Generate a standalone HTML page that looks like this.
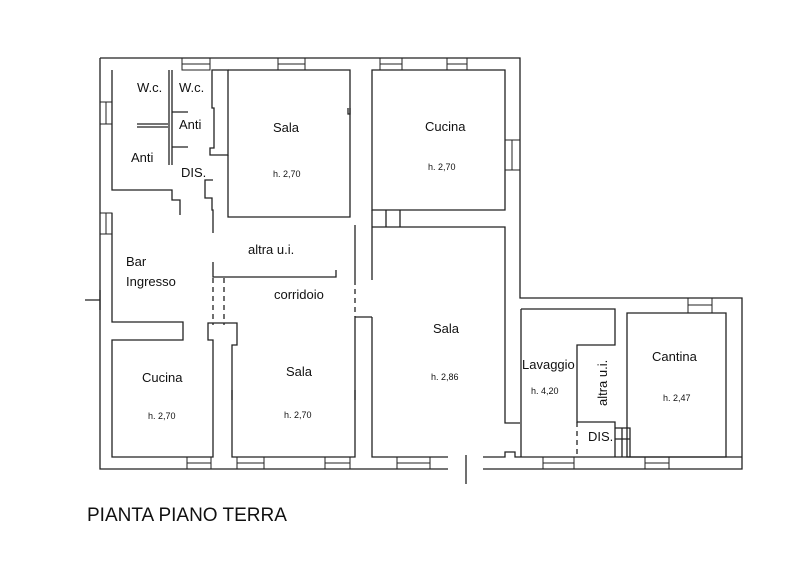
<!DOCTYPE html>
<html><head><meta charset="utf-8"><style>
html,body{margin:0;padding:0;background:#fff;width:800px;height:573px;overflow:hidden}
svg{display:block}
text{font-family:"Liberation Sans",Arial,sans-serif;fill:#111}
</style></head><body>
<svg width="800" height="573" viewBox="0 0 800 573" xmlns="http://www.w3.org/2000/svg">
<g fill="none" stroke="#222" stroke-width="1.3">
<path d="M100 58 H520 V298 H742 V469 H483 M448 469 H100 V58"/>
<path d="M112 70 V190 H172 V200 H180 V215"/>
<path d="M112 213 V310"/>
<path d="M169 70 V165 M172 70 V165"/>
<path d="M137 124 H168 M137 127 H168"/>
<path d="M172 112 H188 M172 147 H188"/>
<path d="M212 70 V108 H214 V148 H210 V155 H228 V70 Z"/>
<path d="M228 155 V217 H350 V70 H228"/>
<path d="M350 108 V114 H348 V108"/>
<path d="M213 180 H205 V198 H212 V210 H213 V233"/>
<path d="M213 262 V277 H336 V270"/>
<path d="M213 278 V325 M224 278 V325" stroke-dasharray="5 4"/>
<path d="M100 300 H85 M100 290 V310"/>
<path d="M112 310 V322 H183 V340 H112 V457 H213 V340 H208 V323 H225"/>
<path d="M225 323 H237 V345 H232 V457 H355 V317 H372"/>
<path d="M232 390 V400 M355 390 V400"/>
<path d="M355 225 V280"/>
<path d="M355 280 V317" stroke-dasharray="5 4"/>
<path d="M372 70 H505 V210 H372 Z"/>
<path d="M372 210 V227 M386 210 V227 M400 210 V227"/>
<path d="M372 227 H505 V423 H520 M372 227 V280 M372 317 V457 H448 M483 457 H505 V452 H515 V457 H520"/>
<path d="M521 309 V457 M521 309 H615 V345 H577 V422 H615 V457"/>
<path d="M577 422 V457" stroke-dasharray="5 4"/>
<path d="M615 428 H630 V457 M622 428 V457 M615 439 H630"/>
<path d="M627 313 H726 V457 H627 Z"/>
<path d="M520 457 H742"/>
<path d="M466 455 V484"/>
<g stroke-width="1">
<rect x="182" y="58" width="28" height="12"/><rect x="278" y="58" width="27" height="12"/>
<rect x="380" y="58" width="22" height="12"/><rect x="447" y="58" width="20" height="12"/>
<rect x="100" y="102" width="12" height="22"/><rect x="100" y="213" width="12" height="21"/>
<rect x="505" y="140" width="15" height="30"/>
<rect x="688" y="298" width="24" height="15"/>
<rect x="187" y="457" width="24" height="12"/><rect x="237" y="457" width="27" height="12"/>
<rect x="325" y="457" width="25" height="12"/><rect x="397" y="457" width="33" height="12"/>
<rect x="543" y="457" width="31" height="12"/><rect x="645" y="457" width="24" height="12"/>
<path d="M182 64 H210 M278 64 H305 M380 64 H402 M447 64 H467 M106 102 V124 M106 213 V234 M512 140 V170 M688 305 H712 M187 463 H211 M237 463 H264 M325 463 H350 M397 463 H430 M543 463 H574 M645 463 H669"/>
</g>
</g>
<g font-size="13">
<text x="137" y="92">W.c.</text><text x="179" y="92">W.c.</text>
<text x="179" y="129">Anti</text><text x="131" y="162">Anti</text>
<text x="181" y="177">DIS.</text>
<text x="273" y="132">Sala</text>
<text x="425" y="131">Cucina</text>
<text x="248" y="254">altra u.i.</text>
<text x="126" y="266">Bar</text><text x="126" y="286">Ingresso</text>
<text x="274" y="299">corridoio</text>
<text x="142" y="382">Cucina</text>
<text x="286" y="376">Sala</text>
<text x="433" y="333">Sala</text>
<text x="522" y="369">Lavaggio</text>
<text x="652" y="361">Cantina</text>
<text x="588" y="441">DIS.</text>
<text transform="translate(607,406) rotate(-90)">altra u.i.</text>
</g>
<g font-size="9" fill="#333">
<text x="273" y="177">h. 2,70</text><text x="428" y="170">h. 2,70</text>
<text x="148" y="419">h. 2,70</text><text x="284" y="418">h. 2,70</text>
<text x="431" y="380">h. 2,86</text><text x="531" y="394">h. 4,20</text>
<text x="663" y="401">h. 2,47</text>
</g>
<text x="87" y="521" font-size="19">PIANTA PIANO TERRA</text>
</svg>
</body></html>
